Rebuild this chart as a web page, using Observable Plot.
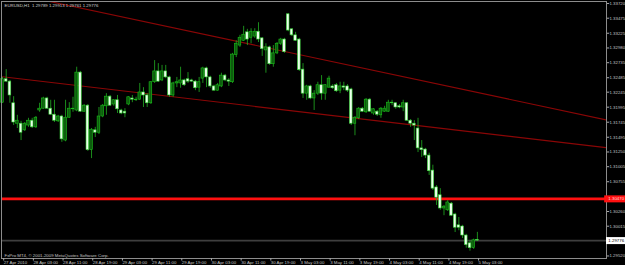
<!DOCTYPE html>
<html>
<head>
<meta charset="utf-8">
<script src="https://cdn.jsdelivr.net/npm/d3@7"></script>
<script src="https://cdn.jsdelivr.net/npm/@observablehq/plot@0.6"></script>
<style>
  html, body { margin: 0; padding: 0; background: #000; }
  #chart { width: 625px; height: 265px; overflow: hidden; }
</style>
</head>
<body>
<div id="chart"></div>
<script>
// ---- data (EURUSD H1 bars, index 0 = 27 Apr 2010 19:00) ----
const symbol = "EURUSD,H1";
const openP = [
1.3207,1.3246,1.3242,1.3206,1.3172,1.3172,1.3161,1.3169,1.3177,1.3166,
1.3194,1.3197,1.3214,1.3197,1.3187,1.3176,1.3184,1.3144,1.3182,1.3196,
1.3194,1.3257,1.3192,1.3202,1.3128,1.3161,1.3157,1.3184,1.3201,1.3217,
1.3204,1.3211,1.3194,1.3192,1.3204,1.3214,1.3211,1.3212,1.3224,1.3219,
1.3206,1.3241,1.3259,1.3244,1.3259,1.3249,1.3219,1.3239,1.3239,1.3244,
1.3246,1.3244,1.3242,1.3232,1.3247,1.3264,1.3249,1.3234,1.3227,1.3234,
1.3252,1.3244,1.3241,1.3286,1.3302,1.3310,1.3324,1.3315,1.3317,1.3325,
1.3314,1.3294,1.3299,1.3271,1.3289,1.3305,1.3312,1.3354,1.3329,1.3319,
1.3312,1.3262,1.3222,1.3234,1.3214,1.3222,1.3236,1.3222,1.3232,1.3234,
1.3236,1.3227,1.3234,1.3234,1.3229,1.3172,1.3181,1.3197,1.3191,1.3212,
1.3189,1.3192,1.3186,1.3192,1.3192,1.3207,1.3206,1.3201,1.3199,1.3206,
1.3177,1.3172,1.3164,1.3131,1.3129,1.3119,1.3094,1.3066,1.3053,1.3031,
1.3028,1.3039,1.3021,1.3003,1.3001,1.2986,1.2973,1.2965,1.29789];
const highP = [
1.3249,1.3262,1.3244,1.3217,1.3186,1.3176,1.3174,1.3181,1.3181,1.3184,
1.3206,1.3216,1.3216,1.3211,1.3211,1.3186,1.3186,1.3211,1.3207,1.3216,
1.3266,1.3259,1.3204,1.3204,1.3164,1.3166,1.3199,1.3204,1.3222,1.3219,
1.3212,1.3219,1.3196,1.3197,1.3217,1.3219,1.3216,1.3239,1.3232,1.3222,
1.3242,1.3277,1.3272,1.3269,1.3269,1.3251,1.3241,1.3249,1.3266,1.3246,
1.3257,1.3246,1.3244,1.3249,1.3266,1.3266,1.3251,1.3236,1.3239,1.3256,
1.3254,1.3247,1.3289,1.3310,1.3319,1.3334,1.3329,1.3330,1.3330,1.3340,
1.3315,1.3305,1.3301,1.3302,1.3307,1.3314,1.3314,1.3355,1.3330,1.3324,
1.3314,1.3272,1.3236,1.3236,1.3227,1.3241,1.3252,1.3237,1.3251,1.3237,
1.3239,1.3241,1.3241,1.3237,1.3231,1.3184,1.3199,1.3199,1.3214,1.3214,
1.3197,1.3194,1.3199,1.3201,1.3211,1.3211,1.3207,1.3204,1.3211,1.3207,
1.3179,1.3177,1.3181,1.3144,1.3131,1.3123,1.3103,1.3069,1.3064,1.3036,
1.3044,1.3041,1.3023,1.3016,1.3003,1.2988,1.2978,1.2980,1.29913];
const lowP = [
1.3206,1.3241,1.3206,1.3169,1.3164,1.3144,1.3159,1.3166,1.3164,1.3164,
1.3191,1.3196,1.3196,1.3186,1.3174,1.3174,1.3141,1.3142,1.3181,1.3191,
1.3192,1.3191,1.3191,1.3126,1.3114,1.3149,1.3154,1.3182,1.3186,1.3201,
1.3201,1.3189,1.3187,1.3182,1.3202,1.3207,1.3209,1.3211,1.3199,1.3199,
1.3204,1.3239,1.3241,1.3242,1.3247,1.3216,1.3216,1.3232,1.3231,1.3234,
1.3239,1.3241,1.3227,1.3224,1.3239,1.3232,1.3231,1.3226,1.3226,1.3232,
1.3242,1.3234,1.3239,1.3282,1.3299,1.3309,1.3302,1.3305,1.3314,1.3307,
1.3284,1.3256,1.3269,1.3266,1.3287,1.3302,1.3289,1.3325,1.3317,1.3309,
1.3259,1.3214,1.3211,1.3212,1.3194,1.3219,1.3211,1.3211,1.3231,1.3229,
1.3224,1.3222,1.3227,1.3224,1.3169,1.3152,1.3179,1.3191,1.3189,1.3191,
1.3186,1.3184,1.3181,1.3191,1.3191,1.3202,1.3196,1.3197,1.3192,1.3176,
1.3166,1.3144,1.3124,1.3116,1.3114,1.3086,1.3061,1.3036,1.3028,1.3019,
1.3026,1.3018,1.2991,1.2994,1.2981,1.2965,1.2960,1.2963,1.29761];
const closeP = [
1.3246,1.3242,1.3219,1.3174,1.3177,1.3157,1.3172,1.3177,1.3166,1.3182,
1.3197,1.3214,1.3197,1.3187,1.3177,1.3184,1.3146,1.3182,1.3197,1.3197,
1.3257,1.3192,1.3202,1.3128,1.3162,1.3157,1.3184,1.3202,1.3217,1.3202,
1.3211,1.3196,1.3189,1.3189,1.3216,1.3212,1.3212,1.3224,1.3219,1.3206,
1.3241,1.3259,1.3242,1.3259,1.3249,1.3219,1.3239,1.3241,1.3244,1.3236,
1.3242,1.3242,1.3231,1.3241,1.3264,1.3249,1.3234,1.3227,1.3236,1.3252,
1.3244,1.3242,1.3287,1.3305,1.3315,1.3320,1.3312,1.3325,1.3325,1.3312,
1.3296,1.3299,1.3271,1.3289,1.3305,1.3312,1.3291,1.3327,1.3319,1.3310,
1.3261,1.3222,1.3234,1.3214,1.3222,1.3236,1.3222,1.3236,1.3247,1.3231,
1.3226,1.3234,1.3232,1.3227,1.3172,1.3182,1.3197,1.3192,1.3212,1.3192,
1.3196,1.3187,1.3197,1.3197,1.3207,1.3206,1.3199,1.3199,1.3206,1.3177,
1.3172,1.3169,1.3131,1.3128,1.3119,1.3093,1.3064,1.3049,1.3031,1.3034,
1.3041,1.3019,1.2999,1.2999,1.2986,1.2970,1.2965,1.2978,1.29776];

const yTicks = [1.33720,1.33475,1.33225,1.32980,1.32735,1.32485,1.32245,1.31995,1.31745,
                1.31495,1.31250,1.31005,1.30755,1.30510,1.30260,1.30015,1.29770,1.29520];
const xTickBars = [0,8,16,24,32,40,48,56,64,72,80,88,96,104,112,120,128];
const xTickLabels = ["27 Apr 2010","28 Apr 03:00","28 Apr 11:00","28 Apr 19:00","29 Apr 03:00",
  "29 Apr 11:00","29 Apr 19:00","30 Apr 03:00","30 Apr 11:00","30 Apr 19:00","3 May 03:00",
  "3 May 11:00","3 May 19:00","4 May 03:00","4 May 11:00","4 May 19:00","5 May 03:00"];

// trend lines (bar index, price) and horizontal levels
const upperTrend = [{bar: 0, price: 1.3392}, {bar: 163, price: 1.3178}];
const lowerTrend = [{bar: 0, price: 1.3250}, {bar: 163, price: 1.3132}];
const hLevel = 1.30470;
const bidPrice = closeP[closeP.length - 1];
const copyright = "FxPro MT4, \u00A9 2001-2009 MetaQuotes Software Corp.";

// ---- build ----
const bars = openP.map((o, i) => ({i, open: o, high: highP[i], low: lowP[i], close: closeP[i]}));
const bull = bars.filter(d => d.close >= d.open);
const bear = bars.filter(d => d.close < d.open);
const labelMap = new Map(xTickBars.map((b, k) => [b, xTickLabels[k]]));
const last = bars[bars.length - 1];
const header = `${symbol}  ${last.open.toFixed(5)} ${last.high.toFixed(5)} ${last.low.toFixed(5)} ${last.close.toFixed(5)}`;
// tick labels hidden behind the price boxes on the axis
const hidden = v => Math.abs(v - hLevel) < 0.0006 || Math.abs(v - bidPrice) < 0.0006;

const XMAX = 162.8, XOUT = 168.6;
const fs = 4.35;
const txt = "#c4c4c4";

const chart = Plot.plot({
  width: 625,
  height: 265,
  marginLeft: 1,
  marginRight: 19,
  marginTop: 1,
  marginBottom: 7,
  style: {background: "#000", color: txt, fontFamily: "'Liberation Sans', Arial, sans-serif", fontSize: fs + "px"},
  x: {domain: [-0.27, XMAX], axis: null},
  y: {domain: [1.29478, 1.33753], axis: null},
  marks: [
    Plot.ruleY([bidPrice], {stroke: "#3e3e3e", strokeWidth: 1.6}),
    Plot.line(upperTrend, {x: "bar", y: "price", stroke: "#8a0606", strokeWidth: 1.1, clip: true}),
    Plot.line(lowerTrend, {x: "bar", y: "price", stroke: "#8a0606", strokeWidth: 1.1, clip: true}),
    Plot.ruleY([hLevel], {stroke: "#ff1010", strokeWidth: 2.6}),
    Plot.ruleX(bars, {x: "i", y1: "low", y2: "high", stroke: "#22b022", strokeWidth: 0.8}),
    Plot.rect(bull, {x1: d => d.i - 0.36, x2: d => d.i + 0.36, y1: "open", y2: "close",
      fill: "#0e5c0e", stroke: "#19c019", strokeWidth: 0.6}),
    Plot.rect(bear, {x1: d => d.i - 0.36, x2: d => d.i + 0.36, y1: "open", y2: "close",
      fill: "#eaffea", stroke: "#30d030", strokeWidth: 0.6}),
    Plot.frame({stroke: "#8c8c8c", strokeWidth: 1}),
    Plot.axisY(yTicks, {anchor: "right", tickSize: 2.2, tickPadding: 0.8, stroke: "#a8a8a8",
      tickFormat: d => hidden(d) ? "" : d.toFixed(5), fontSize: fs, fill: txt}),
    Plot.axisX(xTickBars, {anchor: "bottom", tickSize: 2.5, tickPadding: -0.5, stroke: "#a8a8a8",
      tickFormat: d => labelMap.get(d), textAnchor: "start", dx: 1.2, fontSize: fs, fill: txt}),
    // price labels on the axis
    Plot.ruleY([hLevel], {x1: XMAX - 0.5, x2: XOUT, stroke: "#ff1010", strokeWidth: 7}),
    Plot.text([hLevel], {x: XMAX + 0.5, y: d => d, text: d => d.toFixed(5), textAnchor: "start",
      fill: "#ffd8d8", fontSize: fs}),
    Plot.ruleY([bidPrice], {x1: XMAX, x2: XOUT, stroke: "#ffffff", strokeWidth: 7}),
    Plot.text([bidPrice], {x: XMAX + 0.5, y: d => d, text: d => d.toFixed(5), textAnchor: "start",
      fill: "#000", fontSize: fs}),
    Plot.text([header], {frameAnchor: "top-left", dx: 3, dy: 2.5, lineAnchor: "top",
      textAnchor: "start", fill: "#d0d0d0", fontSize: fs}),
    Plot.text([copyright], {frameAnchor: "bottom-left", dx: 3, dy: -2, lineAnchor: "bottom",
      textAnchor: "start", fill: "#c0c0c0", fontSize: fs})
  ]
});
document.getElementById("chart").appendChild(chart);
</script>
</body>
</html>
